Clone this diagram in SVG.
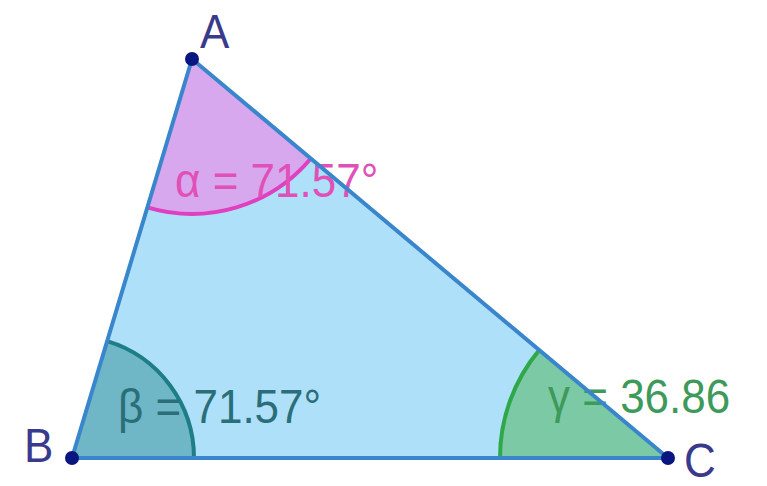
<svg xmlns="http://www.w3.org/2000/svg" width="767" height="486" viewBox="0 0 767 486">
<style>
.lbl{font-family:"Liberation Sans",Arial,sans-serif;font-size:44px}
.pt{fill:#3a3a8c}
.dot{fill:#0a1580}
.edge{stroke:#3a86cc;stroke-width:4;fill:none;stroke-linecap:round}
</style>
<rect width="767" height="486" fill="#ffffff"/>
<g id="triangle">
<polygon points="192,59 72,458 668,458" fill="#aee0fa"/>
</g>
<g id="angle-alpha">
<path d="M192,59 L147.3,207.4 A155,155 0 0 0 311,158.2 Z" fill="#d7a8ee"/>
<path d="M147.3,207.4 A155,155 0 0 0 311,158.2" fill="none" stroke="#e040c0" stroke-width="4"/>
</g>
<g id="angle-beta">
<path d="M72,458 L107.2,341.2 A122,122 0 0 1 194,458 Z" fill="#6fb6c6"/>
<path d="M107.2,341.2 A122,122 0 0 1 194,458" fill="none" stroke="#1e7d86" stroke-width="4"/>
</g>
<g id="angle-gamma">
<path d="M668,458 L539,350.4 A168,168 0 0 0 500,458 Z" fill="#7cc9a6"/>
<path d="M539,350.4 A168,168 0 0 0 500,458" fill="none" stroke="#2fa84a" stroke-width="4"/>
</g>
<g id="labels">
<text class="lbl" transform="translate(175,197) scale(1,1.1)" fill="#e050b8">α = 71.57°</text>
<text class="lbl" transform="translate(118,423) scale(1,1.1)" fill="#2a6e78">β = 71.57°</text>
<text class="lbl" transform="translate(548,413) scale(1,1.1)" fill="#3e9a5a">γ = 36.86</text>
</g>
<g id="connectors">
<line class="edge" x1="192" y1="59" x2="72" y2="458"/>
<line class="edge" x1="192" y1="59" x2="668" y2="458"/>
<line class="edge" x1="72" y1="458" x2="668" y2="458" stroke="#2a8bb8"/>
</g>
<g id="A"><circle class="dot" cx="192" cy="59" r="7"/><text class="lbl pt" transform="translate(200,48) scale(1,1.1)">A</text></g>
<g id="B"><circle class="dot" cx="72" cy="458" r="7"/><text class="lbl pt" transform="translate(24,462) scale(1,1.1)">B</text></g>
<g id="C"><circle class="dot" cx="668" cy="458" r="7"/><text class="lbl pt" transform="translate(684,477) scale(1,1.1)">C</text></g>
</svg>
